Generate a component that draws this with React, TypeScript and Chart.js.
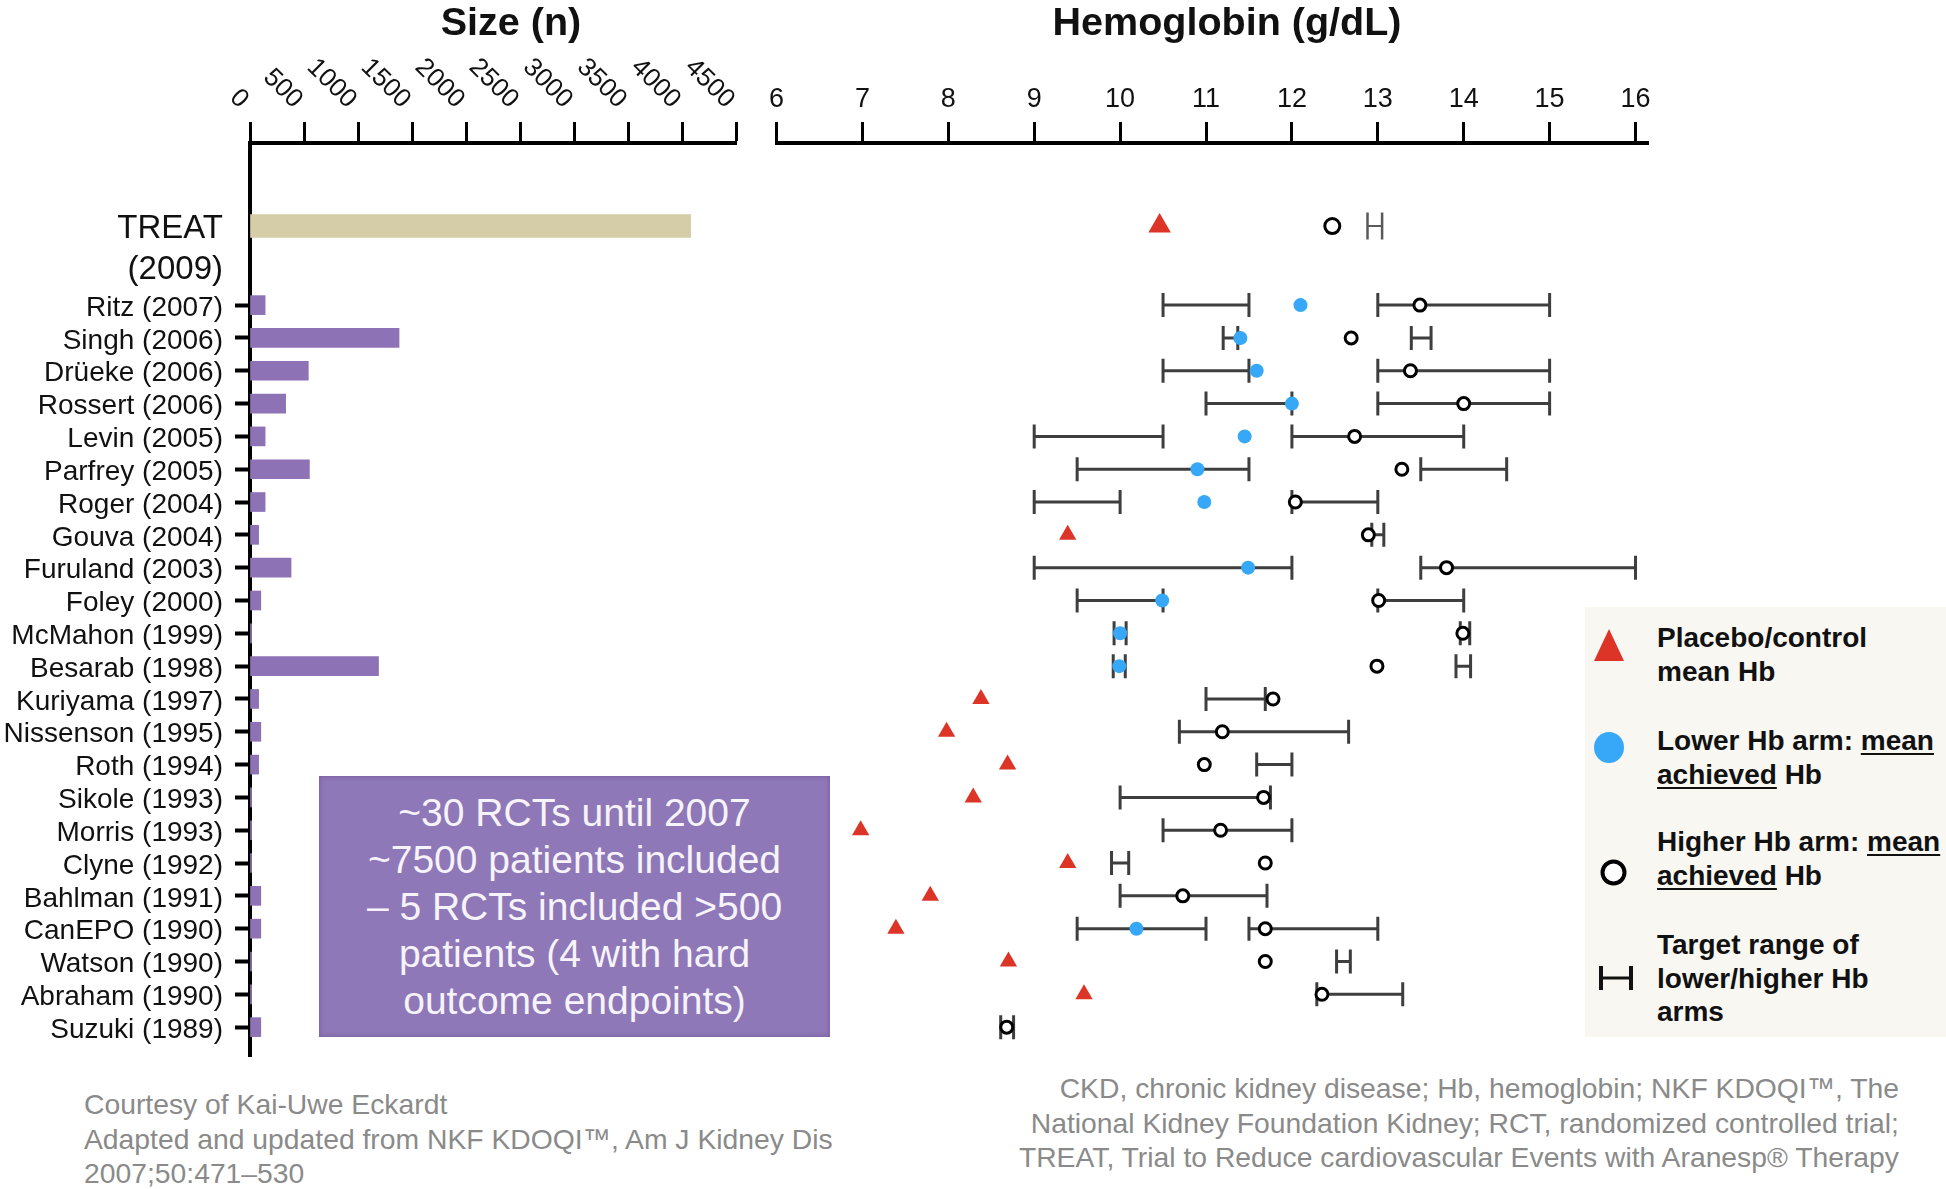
import React, { useEffect, useRef } from "react";
import { Chart, registerables } from "chart.js";

Chart.register(...registerables);

// ---------- data ----------
const studyNames = [
  "TREAT", "Ritz", "Singh", "Drüeke", "Rossert", "Levin", "Parfrey", "Roger", "Gouva",
  "Furuland", "Foley", "McMahon", "Besarab", "Kuriyama", "Nissenson", "Roth", "Sikole",
  "Morris", "Clyne", "Bahlman", "CanEPO", "Watson", "Abraham", "Suzuki",
];
const studyYears = [
  2009, 2007, 2006, 2006, 2006, 2005, 2005, 2004, 2004, 2003, 2000, 1999, 1998, 1997,
  1995, 1994, 1993, 1993, 1992, 1991, 1990, 1990, 1990, 1989,
];
const sampleSize = [
  4080, 140, 1380, 540, 330, 140, 550, 140, 80, 380, 100, 15, 1190, 80, 100, 80, 15,
  15, 15, 100, 100, 15, 15, 100,
];
const sizeTicks = [0, 500, 1000, 1500, 2000, 2500, 3000, 3500, 4000, 4500];
const hbTicks = [6, 7, 8, 9, 10, 11, 12, 13, 14, 15, 16];

const placeboHb = [
  10.46, null, null, null, null, null, null, null, 9.39, null, null, null, null, 8.38,
  7.98, 8.69, 8.29, 6.98, 9.39, 7.79, 7.39, 8.7, 9.58, null,
];
const lowerArmHb = [
  null, 12.1, 11.4, 11.59, 12.0, 11.45, 10.9, 10.98, null, 11.49, 10.49, 10.0, 9.99,
  null, null, null, null, null, null, null, 10.19, null, null, null,
];
const higherArmHb = [
  12.47, 13.49, 12.69, 13.38, 14.0, 12.73, 13.28, 12.04, 12.89, 13.8, 13.01, 13.99,
  12.99, 11.78, 11.19, 10.98, 11.67, 11.17, 11.69, 10.73, 11.69, 11.69, 12.35, 8.68,
];
const lowerTargetLow = [
  null, 10.5, 11.2, 10.5, 11.0, 9.0, 9.5, 9.0, null, 9.0, 9.5, 9.93, 9.92, null, null,
  null, null, null, null, null, 9.5, null, null, null,
];
const lowerTargetHigh = [
  null, 11.5, 11.37, 11.5, 12.0, 10.5, 11.5, 10.0, null, 12.0, 10.5, 10.07, 10.06, null,
  null, null, null, null, null, null, 11.0, null, null, null,
];
const higherTargetLow = [
  12.88, 13.0, 13.39, 13.0, 13.0, 12.0, 13.5, 12.0, 12.93, 13.5, 13.0, 13.96, 13.91, 11.0,
  10.69, 11.59, 10.0, 10.5, 9.9, 10.0, 11.5, 12.52, 12.29, 8.61,
];
const higherTargetHigh = [
  13.05, 15.0, 13.62, 15.0, 15.0, 14.0, 14.5, 13.0, 13.07, 16.0, 14.0, 14.07, 14.08, 11.69,
  12.66, 12.0, 11.75, 12.0, 10.1, 11.71, 13.0, 12.68, 13.29, 8.76,
];

// ---------- layout helpers ----------
const FONT = "'Liberation Sans', Arial, Helvetica, sans-serif";
const TREAT_ROW = -2.41;
const TREAT_YEAR_ROW = -1.17;
const Y_MIN = -4.94;
const Y_MAX = 22.91;
const rowOf = (i: number) => (i === 0 ? TREAT_ROW : i - 1);

const yTickValues = [TREAT_ROW, TREAT_YEAR_ROW, ...studyNames.slice(1).map((_, k) => k)];
const yTickLabels = [
  studyNames[0],
  `(${studyYears[0]})`,
  ...studyNames.slice(1).map((n, k) => `${n} (${studyYears[k + 1]})`),
];

const zeroPad = (s: any) => {
  s.paddingTop = 0;
  s.paddingBottom = 0;
  s.paddingLeft = 0;
  s.paddingRight = 0;
};

const sizeLabelPlugin = {
  id: "sizeLabels",
  afterDraw(chart: any) {
    const s = chart.scales.x;
    const ctx = chart.ctx;
    ctx.save();
    ctx.font = `26px ${FONT}`;
    ctx.fillStyle = "#111";
    ctx.textAlign = "right";
    ctx.textBaseline = "middle";
    sizeTicks.forEach((v) => {
      const px = s.getPixelForValue(v);
      ctx.save();
      ctx.translate(px - 6, 104);
      ctx.rotate(Math.PI / 4);
      ctx.fillText(String(v), 0, 0);
      ctx.restore();
    });
    ctx.restore();
  },
};

function SizeChart() {
  const ref = useRef<HTMLCanvasElement>(null);
  useEffect(() => {
    const chart = new Chart(ref.current as HTMLCanvasElement, {
      type: "bar",
      data: {
        datasets: [
          {
            data: [{ x: sampleSize[0], y: rowOf(0) }],
            backgroundColor: "#d5cca8",
            barThickness: 23,
            grouped: false,
          } as any,
          {
            data: studyNames.slice(1).map((_, k) => ({ x: sampleSize[k + 1], y: rowOf(k + 1) })),
            backgroundColor: "#8d73b5",
            barThickness: 19,
            grouped: false,
          } as any,
        ],
      },
      options: {
        indexAxis: "y",
        responsive: false,
        animation: false,
        devicePixelRatio: 1,
        layout: { autoPadding: false, padding: { left: 0, right: 24, top: 0, bottom: 0 } },
        plugins: { legend: { display: false }, tooltip: { enabled: false } },
        scales: {
          x: {
            type: "linear",
            position: "top",
            min: 0,
            max: 4500,
            afterBuildTicks: (s: any) => {
              s.ticks = sizeTicks.map((v) => ({ value: v }));
            },
            afterFit: (s: any) => {
              s.height = 143;
              zeroPad(s);
            },
            ticks: { display: false },
            grid: {
              drawOnChartArea: false,
              drawTicks: true,
              tickLength: 21,
              tickWidth: 3,
              tickColor: "#000",
              offset: false,
            },
            border: { display: true, color: "#000", width: 4 },
          },
          y: {
            type: "linear",
            position: "left",
            min: Y_MIN,
            max: Y_MAX,
            reverse: true,
            offset: false,
            z: 1,
            afterBuildTicks: (s: any) => {
              s.ticks = yTickValues.map((v) => ({ value: v }));
            },
            afterFit: (s: any) => {
              s.width = 250;
              zeroPad(s);
            },
            ticks: {
              autoSkip: false,
              padding: 12,
              labelOffset: 3,
              color: "#111",
              callback: (_v: any, i: number) => yTickLabels[i],
              font: (ctx: any) => ({ family: FONT, size: ctx.index < 2 ? 33 : 28 }),
            },
            grid: {
              offset: false,
              drawOnChartArea: false,
              drawTicks: true,
              tickLength: 15,
              tickWidth: 4,
              tickColor: (ctx: any) => (ctx.index < 2 ? "rgba(0,0,0,0)" : "#000"),
            },
            border: { display: true, color: "#000", width: 4 },
          },
        },
      } as any,
      plugins: [sizeLabelPlugin],
    });
    return () => chart.destroy();
  }, []);
  return (
    <canvas
      ref={ref}
      width={760}
      height={1057}
      style={{ position: "absolute", left: 0, top: 0, width: 760, height: 1057 }}
    />
  );
}

function HbChart() {
  const ref = useRef<HTMLCanvasElement>(null);
  useEffect(() => {
    const rangeSets: any[] = [];
    studyNames.forEach((_, i) => {
      const pairs: [number | null, number | null][] = [
        [lowerTargetLow[i], lowerTargetHigh[i]],
        [higherTargetLow[i], higherTargetHigh[i]],
      ];
      const isTreat = i === 0;
      const col = isTreat ? "#5a5a5a" : "#3e3e3e";
      pairs.forEach(([lo, hi]) => {
        if (lo == null || hi == null) return;
        rangeSets.push({
          type: "line",
          data: [
            { x: lo, y: rowOf(i) },
            { x: hi, y: rowOf(i) },
          ],
          showLine: true,
          borderColor: col,
          borderWidth: isTreat ? 2 : 3,
          pointStyle: "line",
          pointRotation: 90,
          pointRadius: isTreat ? 13.5 : 12,
          pointBorderWidth: isTreat ? 2.5 : 3,
          pointBorderColor: col,
          pointBackgroundColor: col,
          order: 5,
        });
      });
    });
    const pts = (arr: (number | null)[]) =>
      arr
        .map((v, i) => (v == null ? null : { x: v, y: rowOf(i), i }))
        .filter((p) => p !== null);

    const chart = new Chart(ref.current as HTMLCanvasElement, {
      type: "line",
      data: {
        datasets: [
          ...rangeSets,
          {
            type: "line",
            data: pts(placeboHb),
            showLine: false,
            pointStyle: "triangle",
            pointRadius: (ctx: any) => (ctx.raw && ctx.raw.i === 0 ? 13 : 10),
            pointBackgroundColor: "#dc3427",
            pointBorderColor: "#dc3427",
            pointBorderWidth: 0,
            order: 1,
          },
          {
            type: "line",
            data: pts(lowerArmHb),
            showLine: false,
            pointStyle: "circle",
            pointRadius: 7,
            pointBackgroundColor: "#37a8f7",
            pointBorderColor: "#37a8f7",
            pointBorderWidth: 0,
            order: 2,
          },
          {
            type: "line",
            data: pts(higherArmHb),
            showLine: false,
            pointStyle: "circle",
            pointRadius: (ctx: any) => (ctx.raw && ctx.raw.i === 0 ? 7.5 : 6),
            pointBackgroundColor: "#ffffff",
            pointBorderColor: "#000000",
            pointBorderWidth: 3,
            order: 1,
          },
        ],
      },
      options: {
        responsive: false,
        animation: false,
        devicePixelRatio: 1,
        layout: { autoPadding: false, padding: { left: 76.5, right: 297.6, top: 0, bottom: 0 } },
        plugins: { legend: { display: false }, tooltip: { enabled: false } },
        scales: {
          x: {
            type: "linear",
            position: "top",
            min: 6,
            max: 16.15,
            afterBuildTicks: (s: any) => {
              s.ticks = hbTicks.map((v) => ({ value: v }));
            },
            afterFit: (s: any) => {
              s.height = 143;
              zeroPad(s);
            },
            ticks: {
              padding: 6,
              color: "#111",
              maxRotation: 0,
              autoSkip: false,
              font: { family: FONT, size: 27 },
            },
            grid: {
              drawOnChartArea: false,
              drawTicks: true,
              tickLength: 21,
              tickWidth: 3,
              tickColor: "#000",
              offset: false,
            },
            border: { display: true, color: "#000", width: 4 },
          },
          y: {
            type: "linear",
            display: false,
            min: Y_MIN,
            max: Y_MAX,
            reverse: true,
            offset: false,
          },
        },
      } as any,
    });
    return () => chart.destroy();
  }, []);
  return (
    <canvas
      ref={ref}
      width={1246}
      height={1057}
      style={{ position: "absolute", left: 700, top: 0, width: 1246, height: 1057 }}
    />
  );
}

const textBase: React.CSSProperties = { position: "absolute", fontFamily: FONT, whiteSpace: "nowrap" };
const legendText: React.CSSProperties = {
  ...textBase,
  left: 1657,
  fontSize: 28,
  fontWeight: "bold",
  color: "#111",
  lineHeight: "34px",
};
const ul: React.CSSProperties = { textDecoration: "underline", textDecorationThickness: "2px", textUnderlineOffset: "3px" };

export default function App() {
  return (
    <div
      style={{
        position: "absolute",
        left: 0,
        top: 0,
        width: 1946,
        height: 1189,
        background: "#ffffff",
        overflow: "hidden",
      }}
    >
      <SizeChart />
      <HbChart />

      {/* axis titles */}
      <div style={{ ...textBase, left: 311, width: 400, top: 1, textAlign: "center", fontSize: 39.5, fontWeight: "bold", lineHeight: "40px", color: "#111" }}>
        Size (n)
      </div>
      <div style={{ ...textBase, left: 1027, width: 400, top: 1, textAlign: "center", fontSize: 39.5, fontWeight: "bold", lineHeight: "40px", color: "#111" }}>
        Hemoglobin (g/dL)
      </div>

      {/* summary box */}
      <div
        style={{
          position: "absolute",
          left: 319,
          top: 776,
          width: 511,
          height: 261,
          background: "#8f78b7",
          boxShadow: "inset 0 0 5px rgba(60,30,100,0.35)",
          display: "flex",
          flexDirection: "column",
          justifyContent: "center",
          alignItems: "center",
          color: "#f6f3fa",
          fontFamily: FONT,
          fontSize: 39,
          lineHeight: "47px",
          textAlign: "center",
          whiteSpace: "nowrap",
        }}
      >
        <div>~30 RCTs until 2007</div>
        <div>~7500 patients included</div>
        <div>– 5 RCTs included &gt;500</div>
        <div>patients (4 with hard</div>
        <div>outcome endpoints)</div>
      </div>

      {/* legend */}
      <div style={{ position: "absolute", left: 1585, top: 607, width: 361, height: 430, background: "#f8f7f2" }} />
      <svg style={{ position: "absolute", left: 1593, top: 628 }} width={32} height={34}>
        <polygon points="16,1 31,33 1,33" fill="#dc3427" />
      </svg>
      <div style={{ ...legendText, top: 621 }}>
        Placebo/control
        <br />
        mean Hb
      </div>
      <svg style={{ position: "absolute", left: 1594, top: 732 }} width={30} height={31}>
        <ellipse cx={15} cy={15.5} rx={15} ry={15.5} fill="#37a8f7" />
      </svg>
      <div style={{ ...legendText, top: 724 }}>
        Lower Hb arm: <span style={ul}>mean</span>
        <br />
        <span style={ul}>achieved</span> Hb
      </div>
      <svg style={{ position: "absolute", left: 1600, top: 859 }} width={27} height={27}>
        <circle cx={13.5} cy={13.5} r={11} fill="#fff" stroke="#000" strokeWidth={4} />
      </svg>
      <div style={{ ...legendText, top: 825 }}>
        Higher Hb arm: <span style={ul}>mean</span>
        <br />
        <span style={ul}>achieved</span> Hb
      </div>
      <svg style={{ position: "absolute", left: 1598, top: 965 }} width={38} height={26}>
        <line x1={3} y1={1} x2={3} y2={25} stroke="#111" strokeWidth={4} />
        <line x1={3} y1={13} x2={33} y2={13} stroke="#111" strokeWidth={3} />
        <line x1={33} y1={1} x2={33} y2={25} stroke="#111" strokeWidth={4} />
      </svg>
      <div style={{ ...legendText, top: 928, lineHeight: "33.5px" }}>
        Target range of
        <br />
        lower/higher Hb
        <br />
        arms
      </div>

      {/* footnotes */}
      <div style={{ ...textBase, left: 84, top: 1087, fontSize: 28.3, lineHeight: "34.5px", color: "#8a8a8a" }}>
        Courtesy of Kai-Uwe Eckardt
        <br />
        Adapted and updated from NKF KDOQI™, Am J Kidney Dis
        <br />
        2007;50:471–530
      </div>
      <div style={{ ...textBase, right: 47, top: 1071, fontSize: 28.3, lineHeight: "34.5px", color: "#8a8a8a", textAlign: "right" }}>
        CKD, chronic kidney disease; Hb, hemoglobin; NKF KDOQI™, The
        <br />
        National Kidney Foundation Kidney; RCT, randomized controlled trial;
        <br />
        TREAT, Trial to Reduce cardiovascular Events with Aranesp® Therapy
      </div>
    </div>
  );
}
